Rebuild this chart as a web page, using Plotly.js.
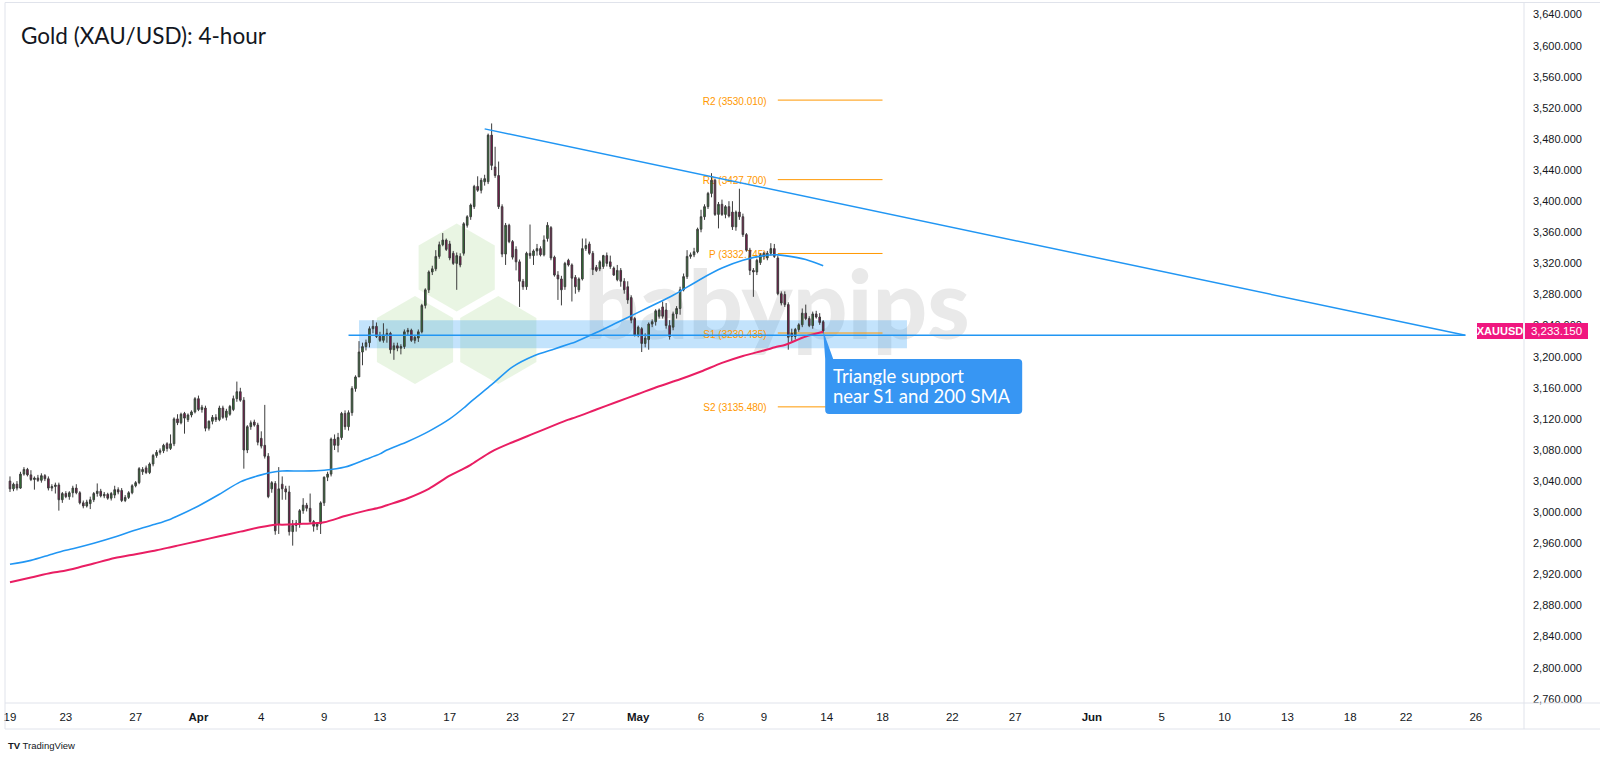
<!DOCTYPE html>
<html><head><meta charset="utf-8">
<script src="https://cdn.plot.ly/plotly-3.0.1.min.js"></script>
<style>html,body{margin:0;padding:0;background:#fff;}#chart{width:1600px;height:759px;}</style>
</head><body><div id="chart"></div>
<script>
// ---------------- DATA ----------------
const chartTitle = 'Gold (XAU/USD): 4-hour';
const symbolName = 'XAUUSD';

// 4-hour candles, Mar 19 02:00 -> May 13 22:00 (New York session time)
const candleOpen = [
3040,3030,3036,3031,3049,3055,3048,3042,3044,3041,
3047,3043,3031,3033,3035,3016,3024,3020,3025,3031,
3025,3012,3008,3011,3016,3024,3027,3021,3023,3018,
3022,3029,3028,3015,3019,3025,3034,3038,3052,3057,
3051,3062,3073,3077,3079,3088,3082,3088,3120,3115,
3127,3119,3125,3129,3146,3132,3134,3108,3117,3122,
3119,3134,3122,3126,3132,3146,3155,3144,3080,3110,
3116,3112,3095,3086,3072,3030,3037,2985,3036,3030,
3026,2975,2983,2986,3002,3009,3005,2988,2982,2985,
3012,3045,3049,3094,3086,3096,3127,3110,3128,3159,
3174,3206,3213,3218,3236,3239,3226,3221,3228,3230,
3209,3214,3211,3213,3232,3234,3221,3224,3232,3266,
3286,3309,3313,3329,3344,3350,3345,3333,3320,3329,
3333,3369,3380,3393,3419,3414,3425,3425,3485,3444,
3433,3393,3332,3369,3348,3338,3322,3297,3290,3333,
3330,3336,3339,3331,3352,3366,3328,3305,3300,3290,
3324,3318,3302,3286,3300,3339,3345,3333,3315,3313,
3316,3330,3322,3314,3299,3311,3297,3290,3276,3249,
3228,3236,3217,3222,3242,3245,3252,3264,3260,3240,
3238,3255,3262,3286,3303,3329,3331,3335,3364,3380,
3393,3410,3427,3383,3396,3383,3393,3386,3367,3386,
3380,3357,3337,3311,3309,3321,3329,3327,3333,3339,
3327,3281,3280,3267,3230,3226,3235,3241,3256,3249,
3240,3255,3251,3245];
const candleHigh = [
3046,3038,3040,3052,3058,3057,3054,3046,3048,3050,
3049,3046,3036,3038,3038,3026,3027,3027,3034,3036,
3027,3015,3016,3020,3026,3037,3030,3026,3025,3026,
3034,3032,3031,3022,3027,3036,3040,3058,3058,3060,
3064,3075,3080,3082,3088,3090,3100,3122,3126,3128,
3129,3127,3131,3148,3150,3138,3137,3118,3125,3126,
3137,3137,3133,3138,3150,3168,3160,3148,3112,3118,
3119,3115,3104,3138,3076,3040,3040,3058,3046,3034,
3034,2990,2990,3004,3018,3012,3024,2990,2987,3014,
3046,3052,3096,3100,3102,3129,3131,3131,3162,3176,
3220,3218,3222,3239,3247,3244,3232,3243,3236,3232,
3218,3218,3216,3235,3237,3236,3228,3235,3268,3288,
3311,3317,3337,3348,3359,3352,3349,3336,3334,3333,
3373,3382,3397,3421,3432,3430,3434,3487,3500,3470,
3451,3396,3372,3371,3350,3342,3325,3300,3335,3370,
3338,3345,3342,3356,3373,3368,3330,3310,3304,3322,
3326,3320,3305,3302,3352,3352,3348,3336,3318,3324,
3331,3334,3330,3316,3318,3314,3301,3297,3279,3251,
3240,3238,3230,3244,3248,3261,3262,3271,3269,3247,
3258,3265,3290,3307,3337,3334,3340,3366,3389,3396,
3412,3436,3429,3399,3402,3395,3400,3400,3388,3416,
3384,3359,3340,3314,3326,3333,3335,3336,3346,3345,
3330,3284,3284,3270,3236,3237,3243,3262,3267,3252,
3258,3259,3256,3247];
const candleLow = [
3026,3027,3028,3030,3047,3046,3040,3029,3039,3038,
3040,3028,3027,3024,3002,3012,3018,3016,3019,3023,
3010,3005,3006,3004,3013,3020,3019,3018,3016,3015,
3018,3023,3013,3013,3017,3023,3032,3036,3048,3049,
3049,3059,3070,3074,3076,3078,3080,3085,3112,3113,
3101,3116,3122,3127,3130,3128,3104,3105,3113,3116,
3117,3120,3118,3124,3130,3142,3142,3056,3076,3106,
3110,3086,3082,3069,3018,3025,2971,2972,3016,3016,
2970,2957,2975,2980,2998,3001,2986,2975,2977,2972,
3008,3040,3046,3080,3077,3093,3106,3105,3124,3155,
3174,3189,3208,3212,3230,3224,3219,3218,3218,3204,
3196,3207,3203,3210,3228,3219,3217,3219,3230,3262,
3282,3305,3310,3326,3342,3336,3324,3318,3286,3315,
3330,3366,3376,3390,3412,3410,3420,3422,3440,3430,
3390,3328,3318,3346,3325,3311,3264,3286,3286,3326,
3318,3330,3329,3329,3348,3324,3303,3273,3266,3286,
3316,3271,3281,3283,3298,3336,3331,3305,3309,3310,
3313,3316,3313,3304,3297,3290,3281,3268,3243,3226,
3225,3206,3212,3209,3238,3240,3249,3249,3236,3222,
3234,3249,3254,3284,3300,3326,3328,3333,3360,3376,
3390,3405,3381,3365,3381,3378,3379,3363,3362,3376,
3354,3335,3305,3277,3305,3318,3325,3324,3330,3327,
3279,3266,3264,3209,3220,3222,3232,3238,3247,3238,
3236,3249,3241,3230];
const candleClose = [
3030,3036,3031,3049,3055,3048,3042,3044,3041,3047,
3043,3031,3033,3035,3016,3024,3020,3025,3031,3025,
3012,3008,3013,3016,3024,3027,3021,3023,3018,3024,
3029,3026,3015,3019,3025,3034,3038,3056,3055,3051,
3062,3073,3077,3079,3086,3082,3088,3120,3115,3126,
3121,3125,3129,3146,3132,3135,3108,3117,3122,3119,
3134,3122,3130,3136,3146,3155,3144,3080,3110,3115,
3112,3090,3085,3072,3020,3038,2976,3030,3030,3026,
2975,2983,2986,3002,3009,3005,2988,2982,2985,3012,
3045,3049,3094,3086,3096,3127,3110,3128,3159,3174,
3206,3213,3218,3236,3239,3226,3221,3228,3230,3209,
3214,3211,3213,3232,3234,3221,3225,3232,3266,3286,
3309,3313,3329,3344,3350,3338,3327,3320,3330,3318,
3371,3380,3395,3419,3414,3427,3429,3485,3446,3433,
3393,3332,3369,3348,3328,3322,3297,3290,3333,3330,
3336,3339,3331,3350,3369,3327,3305,3300,3286,3320,
3318,3301,3290,3300,3339,3343,3333,3312,3311,3322,
3330,3320,3316,3305,3311,3297,3286,3273,3247,3228,
3238,3217,3224,3242,3245,3259,3260,3252,3240,3226,
3255,3262,3286,3303,3329,3331,3335,3364,3380,3393,
3410,3427,3383,3396,3383,3393,3381,3367,3386,3380,
3357,3337,3311,3309,3324,3331,3333,3333,3339,3329,
3281,3269,3267,3225,3226,3235,3241,3256,3249,3240,
3255,3251,3244,3233.15];

// moving averages (one value per session start)
const smaTimes = [
'2025-03-19 02:00','2025-03-20 02:00','2025-03-21 02:00','2025-03-23 18:00','2025-03-24 02:00','2025-03-25 02:00',
'2025-03-26 02:00','2025-03-27 02:00','2025-03-28 02:00','2025-03-30 18:00','2025-03-31 02:00','2025-04-01 02:00',
'2025-04-02 02:00','2025-04-03 02:00','2025-04-04 02:00','2025-04-06 18:00','2025-04-07 02:00','2025-04-08 02:00',
'2025-04-09 02:00','2025-04-10 02:00','2025-04-11 02:00','2025-04-13 18:00','2025-04-14 02:00','2025-04-15 02:00',
'2025-04-16 02:00','2025-04-17 02:00','2025-04-20 18:00','2025-04-21 02:00','2025-04-22 02:00','2025-04-23 02:00',
'2025-04-24 02:00','2025-04-25 02:00','2025-04-27 18:00','2025-04-28 02:00','2025-04-29 02:00','2025-04-30 02:00',
'2025-05-01 02:00','2025-05-02 02:00','2025-05-04 18:00','2025-05-05 02:00','2025-05-06 02:00','2025-05-07 02:00',
'2025-05-08 02:00','2025-05-09 02:00','2025-05-11 18:00','2025-05-12 02:00','2025-05-13 02:00','2025-05-13 22:00'];
const sma100 = [2933,2938,2946,2951,2953,2960,2968,2977,2985,2991,2995,3008,3023,3039,3048,3052,3053,3053,3054,3058,
3068,3075,3080,3091,3104,3120,3134,3142,3164,3187,3201,3210,3216,3219,3231,3244,3257,3270,3279,3284,3300,3314,3324,
3330,3331,3330,3325,3317];
const sma200 = [2910,2916,2922,2925,2927,2934,2941,2946,2951,2955,2957,2963,2969,2975,2981,2984,2984,2985,2987,2995,
3002,3006,3009,3018,3030,3047,3056,3061,3078,3090,3101,3112,3119,3122,3132,3142,3152,3162,3168,3171,3181,3192,3201,
3208,3213,3215,3226,3232];

// weekly pivot points
const pivotNames = ['R2','R1','P','S1','S2'];
const pivotValues = [3530.010, 3427.700, 3332.745, 3230.435, 3135.480];
const pivotWeek = ['2025-05-11 18:00','2025-05-18 18:00'];

// drawings
const trendTimes = ['2025-04-21 18:00','2025-06-25 14:00'];
const trendPrices = [3493, 3227.5];
const supportTimes = ['2025-04-10 06:00','2025-06-25 14:00'];
const supportPrice = 3227.5;
const zoneTimes = ['2025-04-10 18:00','2025-05-19 22:00'];
const zonePrices = [3211, 3247];
const calloutLines = ['Triangle support','near S1 and 200 SMA'];

// time axis labels
const tickDates = ['2025-03-19','2025-03-23','2025-03-27','2025-04-01','2025-04-04','2025-04-09','2025-04-13','2025-04-17',
'2025-04-23','2025-04-27','2025-05-01','2025-05-06','2025-05-09','2025-05-14','2025-05-18','2025-05-22','2025-05-27',
'2025-06-01','2025-06-05','2025-06-10','2025-06-13','2025-06-18','2025-06-22','2025-06-26'];
const tickLabels = ['19','23','27','Apr','4','9','13','17','23','27','May','6','9','14','18','22','27','Jun','5','10','13','18','22','26'];

// session calendar (bars per day)
const closedDays = ['2025-04-18'];
const shortDays = {'2025-04-17': 4};

// ---------------- BUILD ----------------
function buildBars(){
  const out = [];
  let d = Date.UTC(2025,2,19);
  const end = Date.UTC(2025,6,2);
  while (d <= end){
    const dt = new Date(d);
    const dow = dt.getUTCDay();
    const key = dt.toISOString().slice(0,10);
    let hours = dow===6 ? [] : dow===0 ? [18,22] : dow===5 ? [2,6,10,14] : [2,6,10,14,18,22];
    if (closedDays.includes(key)) hours = [];
    if (shortDays[key] !== undefined) hours = hours.slice(0, shortDays[key]);
    hours.forEach(h => out.push(key+' '+String(h).padStart(2,'0')+':00'));
    d += 86400000;
  }
  return out;
}
const bars = buildBars();
const idxOf = t => bars.indexOf(t);
const dayIdx = d => bars.findIndex(b => b.startsWith(d));
const n = candleClose.length;
const xs = candleClose.map((_, i) => i);
const lastIdx = n - 1;
const lastClose = candleClose[n-1];

// pixel frame of the pane
const PL=5, PR=1524, PT=3, PB=703;
const px = x => (x-PL)/(PR-PL);
const py = y => (PB-y)/(PB-PT);

const traces = [
  {type:'candlestick', x: xs, open: candleOpen, high: candleHigh, low: candleLow, close: candleClose,
   increasing:{line:{color:'#3c3c3c', width:1}, fillcolor:'#2e7d32'},
   decreasing:{line:{color:'#3c3c3c', width:1}, fillcolor:'#880e4f'},
   whiskerwidth:0, hoverinfo:'skip', showlegend:false},
  {type:'scatter', mode:'lines', x: smaTimes.map(idxOf), y: sma100,
   line:{color:'#2196f3', width:1.6, shape:'spline', smoothing:0.8}, hoverinfo:'skip', showlegend:false},
  {type:'scatter', mode:'lines', x: smaTimes.map(idxOf), y: sma200,
   line:{color:'#e91e63', width:2, shape:'spline', smoothing:0.8}, hoverinfo:'skip', showlegend:false}
];

const shapes = [];
// watermark hexagons
const hexR = 44, hexC = [[456.7,267.5],[415,340],[498.3,340]];
hexC.forEach(([cx,cy]) => {
  const w = hexR*Math.sqrt(3)/2;
  const pts = [[cx,cy-hexR],[cx+w,cy-hexR/2],[cx+w,cy+hexR/2],[cx,cy+hexR],[cx-w,cy+hexR/2],[cx-w,cy-hexR/2]];
  const path = 'M' + pts.map(p => px(p[0]).toFixed(5)+','+py(p[1]).toFixed(5)).join(' L') + ' Z';
  shapes.push({type:'path', xref:'paper', yref:'paper', path, fillcolor:'rgba(120,190,80,0.16)', line:{width:0}, layer:'below'});
});
// watermark text
shapes.push({type:'rect', xref:'paper', yref:'paper', x0:px(579), x1:px(975), y0:py(350), y1:py(250),
  line:{width:0}, fillcolor:'rgba(0,0,0,0)', layer:'below',
  label:{text:'babypips', textposition:'middle center', font:{family:'Lato', size:96, color:'#e9e9e9', weight:900}}});
// zone
shapes.push({type:'rect', xref:'x', yref:'y', x0:idxOf(zoneTimes[0]), x1:idxOf(zoneTimes[1]), y0:zonePrices[0], y1:zonePrices[1],
  fillcolor:'rgba(33,150,243,0.27)', line:{width:0}, layer:'below'});
// pivots
const gap = '\u00a0\u00a0\u00a0\u00a0';
pivotNames.forEach((nm, i) => {
  shapes.push({type:'line', xref:'x', yref:'y', x0:idxOf(pivotWeek[0]), x1:idxOf(pivotWeek[1]), y0:pivotValues[i], y1:pivotValues[i],
    line:{color:'#ff9800', width:1}, layer:'below',
    label:{text: nm+' ('+pivotValues[i].toFixed(3)+')'+gap, textposition:'start', xanchor:'right', yanchor:'middle', padding:3,
      font:{family:'Liberation Sans', size:10, color:'#ff9800'}}});
});
// trend line + support
shapes.push({type:'line', xref:'x', yref:'y', x0:idxOf(trendTimes[0]), x1:idxOf(trendTimes[1]), y0:trendPrices[0], y1:trendPrices[1],
  line:{color:'#2196f3', width:1.5}});
shapes.push({type:'line', xref:'x', yref:'y', x0:idxOf(supportTimes[0]), x1:idxOf(supportTimes[1]), y0:supportPrice, y1:supportPrice,
  line:{color:'#2196f3', width:1.5}});
// callout bubble anchored at the last candle
shapes.push({type:'path', xref:'x', yref:'y', xsizemode:'pixel', ysizemode:'pixel', xanchor:lastIdx, yanchor:lastClose,
  path:'M0,0 L10,-28 L195,-28 Q199,-28 199,-32 L199,-79 Q199,-83 195,-83 L6,-83 Q2,-83 2,-79 L2,-28 Z',
  fillcolor:'#3796f3', line:{width:0}});
// pane frame
const fr = '#e0e3eb';
shapes.push({type:'line', xref:'paper', yref:'paper', x0:0, x1:px(1600), y0:py(2.5), y1:py(2.5), line:{color:fr,width:1}});
shapes.push({type:'line', xref:'paper', yref:'paper', x0:0, x1:0, y0:py(2.5), y1:py(729), line:{color:fr,width:1}});
shapes.push({type:'line', xref:'paper', yref:'paper', x0:1, x1:1, y0:py(2.5), y1:py(729), line:{color:fr,width:1}});
shapes.push({type:'line', xref:'paper', yref:'paper', x0:0, x1:px(1600), y0:0, y1:0, line:{color:fr,width:1}});
shapes.push({type:'line', xref:'paper', yref:'paper', x0:0, x1:px(1600), y0:py(729), y1:py(729), line:{color:fr,width:1}});

const annotations = [
  {xref:'paper', yref:'paper', x:px(19), y:py(35), xanchor:'left', yanchor:'middle', showarrow:false,
   text: chartTitle, font:{family:'Lato', size:22.5, color:'#131722'}},
  {xref:'x', yref:'y', x:lastIdx, y:lastClose, xshift:10, yshift:-45, xanchor:'left', yanchor:'middle', showarrow:false,
   height:19, borderpad:0, borderwidth:0,
   text: calloutLines[0], font:{family:'Lato', size:18.5, color:'#ffffff'}},
  {xref:'x', yref:'y', x:lastIdx, y:lastClose, xshift:10, yshift:-65, xanchor:'left', yanchor:'middle', showarrow:false,
   height:19, borderpad:0, borderwidth:0,
   text: calloutLines[1], font:{family:'Lato', size:18.5, color:'#ffffff'}},
  {xref:'paper', yref:'y', x:1, y:lastClose, xanchor:'right', yanchor:'middle', xshift:-1.5, showarrow:false,
   text: symbolName, width:46, height:16, borderpad:0, borderwidth:0, bgcolor:'#f0177f',
   font:{family:'Liberation Sans', size:11, color:'#ffffff', weight:'bold'}},
  {xref:'paper', yref:'y', x:1, y:lastClose, xanchor:'left', yanchor:'middle', xshift:0.5, showarrow:false,
   text: lastClose.toLocaleString('en-US',{minimumFractionDigits:3, maximumFractionDigits:3}),
   width:63, height:16, borderpad:0, borderwidth:0, bgcolor:'#f0177f',
   font:{family:'Liberation Sans', size:11.5, color:'#ffffff'}},
  {xref:'paper', yref:'paper', x:px(6), y:py(745), xanchor:'left', yanchor:'middle', showarrow:false,
   text:'<b>TV</b> TradingView', font:{family:'Liberation Sans', size:9.5, color:'#131722'}}
];

const layout = {
  width:1600, height:759,
  margin:{l:PL, r:1600-PR, t:PT, b:759-PB, pad:0},
  paper_bgcolor:'#ffffff', plot_bgcolor:'#ffffff',
  showlegend:false, hovermode:false, dragmode:false, boxgap:0.35,
  xaxis:{range:[-1.43, 433.8], showgrid:false, zeroline:false, showline:false, ticks:'',
    tickmode:'array', tickvals: tickDates.map(dayIdx),
    ticktext: tickLabels.map(t => /[A-Za-z]/.test(t) ? '<b>'+t+'</b>' : t),
    tickfont:{family:'Liberation Sans', size:11.5, color:'#131722'}, ticklabelstandoff:5,
    rangeslider:{visible:false}, fixedrange:true},
  yaxis:{side:'right', range:[2754.6, 3654.9], showgrid:false, zeroline:false, showline:false, ticks:'',
    tick0:2760, dtick:40, tickformat:',.3f', ticklabelstandoff:8,
    tickfont:{family:'Liberation Sans', size:11, color:'#131722'}, fixedrange:true},
  shapes, annotations
};

Plotly.newPlot('chart', traces, layout, {displayModeBar:false, staticPlot:true});
</script>
</body></html>
